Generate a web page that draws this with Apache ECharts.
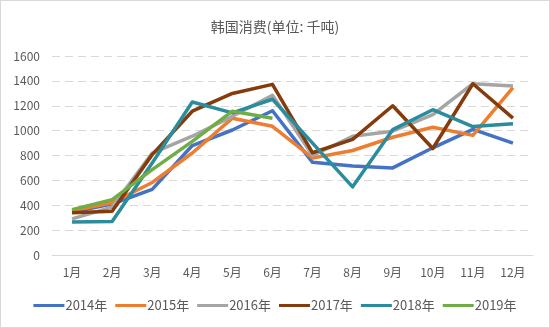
<!DOCTYPE html>
<html><head><meta charset="utf-8">
<script src="https://cdn.jsdelivr.net/npm/echarts@6/dist/echarts.min.js"></script>
<style>
html,body{margin:0;padding:0;background:#fff;}
#c{width:548px;height:326px;border:1px solid #d9d9d9;}
</style></head>
<body><div id="c"></div>
<script>
var title = '韩国消费(单位: 千吨)';
var months = ['1月','2月','3月','4月','5月','6月','7月','8月','9月','10月','11月','12月'];
var names = ['2014年','2015年','2016年','2017年','2018年','2019年'];
var colors = ['#4472C4','#ED7D31','#A5A5A5','#843C0C','#2A8C9C','#70AD47'];
var d2014 = [345, 410, 528, 880, 1005, 1160, 745, 715, 700, 862, 1010, 900];
var d2015 = [355, 420, 583, 820, 1100, 1035, 780, 840, 947, 1027, 962, 1345];
var d2016 = [290, 385, 820, 955, 1115, 1284, 800, 954, 995, 1128, 1377, 1358];
var d2017 = [340, 352, 807, 1156, 1299, 1372, 822, 930, 1200, 856, 1377, 1100];
var d2018 = [265, 270, 740, 1230, 1143, 1252, 900, 548, 1008, 1168, 1033, 1056];
var d2019 = [365, 445, 686, 914, 1156, 1100];
var yTicks = [0, 200, 400, 600, 800, 1000, 1200, 1400, 1600];
var allData = [d2014, d2015, d2016, d2017, d2018, d2019];

var font = 'Noto Sans CJK SC';
var chart = echarts.init(document.getElementById('c'));
chart.setOption({
  animation: false,
  color: colors,
  title: {text: title, left: 'center', top: 14,
    textStyle: {fontFamily: font, fontSize: 14, fontWeight: 'normal', color: '#595959'}},
  legend: {bottom: 10, left: 'center', itemWidth: 31, itemHeight: 3, itemGap: 8,
    icon: 'rect',
    textStyle: {fontFamily: font, fontSize: 13, color: '#595959', padding: [0,0,0,-4]},
    data: names},
  grid: {left: 51, right: 16, top: 55, bottom: 72},
  xAxis: {type: 'category', data: months, boundaryGap: true,
    axisLine: {lineStyle: {color: '#d9d9d9', width: 1}},
    axisTick: {show: false},
    axisLabel: {margin: 11, fontFamily: font, fontSize: 12, color: '#595959'}},
  yAxis: {type: 'value', min: yTicks[0], max: yTicks[yTicks.length-1], interval: 200,
    axisLine: {show: false}, axisTick: {show: false},
    axisLabel: {margin: 12, fontFamily: font, fontSize: 12, color: '#595959',
      formatter: function(v){ return String(v); }},
    splitLine: {lineStyle: {color: '#d9d9d9', type: [8, 5], width: 1}}},
  series: names.map(function(n, i){
    return {name: n, type: 'line', data: allData[i], symbol: 'none',
      lineStyle: {width: 3.5, color: colors[i], join: 'round'}};
  })
});
</script></body></html>
